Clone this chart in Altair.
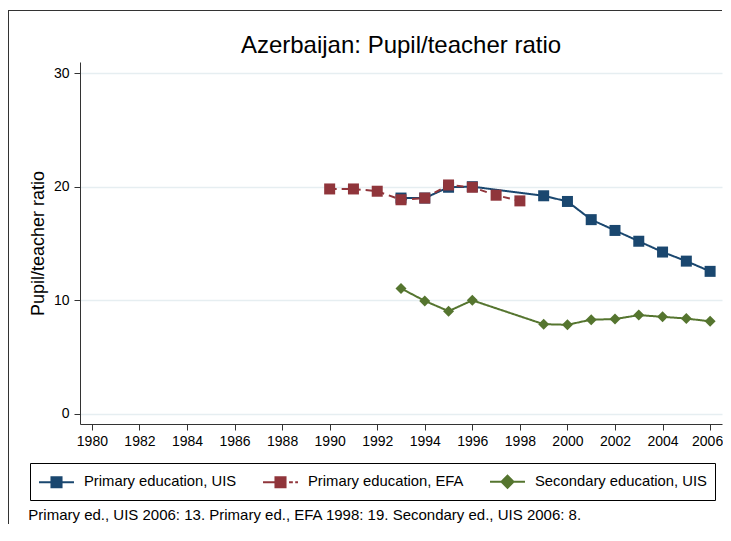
import altair as alt
import pandas as pd

title_text = "Azerbaijan: Pupil/teacher ratio"
y_title = "Pupil/teacher ratio"
footnote = "Primary ed., UIS 2006: 13. Primary ed., EFA 1998: 19. Secondary ed., UIS 2006: 8."

series_names = ["Primary education, UIS", "Primary education, EFA", "Secondary education, UIS"]
series_colors = ["#1a476f", "#90353b", "#55752f"]

years_uis = [1993, 1994, 1995, 1996, 1999, 2000, 2001, 2002, 2003, 2004, 2005, 2006]
primary_uis = [19.0, 19.0, 19.95, 20.0, 19.2, 18.7, 17.1, 16.15, 15.2, 14.25, 13.45, 12.55]
years_efa = [1990, 1991, 1992, 1993, 1994, 1995, 1996, 1997, 1998]
primary_efa = [19.8, 19.8, 19.6, 18.85, 19.0, 20.15, 19.95, 19.25, 18.75]
secondary_uis = [11.05, 9.95, 9.05, 10.0, 7.9, 7.85, 8.3, 8.35, 8.7, 8.55, 8.4, 8.15]

x_ticks = list(range(1980, 2007, 2))
y_ticks = [0, 10, 20, 30]

FONT = "Liberation Sans"

rows = []
for yr, v in zip(years_uis, primary_uis):
    rows.append({"year": yr, "value": v, "series": series_names[0]})
for yr, v in zip(years_efa, primary_efa):
    rows.append({"year": yr, "value": v, "series": series_names[1]})
for yr, v in zip(years_uis, secondary_uis):
    rows.append({"year": yr, "value": v, "series": series_names[2]})
df = pd.DataFrame(rows)

legend_df = pd.DataFrame({"series": series_names, "year": [None] * 3, "value": [None] * 3})

color_scale = alt.Scale(domain=series_names, range=series_colors)

x_enc = alt.X(
    "year:Q",
    scale=alt.Scale(domain=[1979.5, 2006.5], nice=False, zero=False),
    axis=alt.Axis(values=x_ticks, format="d", title=None, grid=False, tickSize=6,
                  labelPadding=4, labelFontSize=14, labelFont=FONT, labelColor="black",
                  domainColor="#333", tickColor="#333", labelOverlap=False, labelFlush=False,
                  labelOffset={"condition": {"test": "datum.value === 2006", "value": -3}, "value": 0}),
)
y_enc = alt.Y(
    "value:Q",
    scale=alt.Scale(domain=[-0.88, 30.97], nice=False, zero=False),
    axis=alt.Axis(values=y_ticks, title=y_title, grid=True, gridColor="#e6eef1", gridWidth=1.5,
                  tickSize=6, labelPadding=5, labelFontSize=14, labelFont=FONT, labelColor="black",
                  domainColor="#333", tickColor="#333", titleFont=FONT, titleFontSize=18,
                  titleFontWeight="normal", titleColor="black", titleAngle=270,
                  titleBaseline="alphabetic", titleX=-37, titleY=181, labelFlush=False),
)

lines = alt.Chart(df).mark_line(strokeWidth=2).encode(
    x=x_enc, y=y_enc,
    color=alt.Color("series:N", scale=color_scale, legend=None),
    strokeDash=alt.StrokeDash("series:N", scale=alt.Scale(domain=series_names, range=[[1, 0], [7, 5], [1, 0]]), legend=None),
)

points = alt.Chart(df).mark_point(filled=True, opacity=1).encode(
    x=x_enc, y=y_enc,
    color=alt.Color("series:N", scale=color_scale, legend=None),
    shape=alt.Shape("series:N", scale=alt.Scale(domain=series_names, range=["square", "square", "diamond"]), legend=None),
    size=alt.Size("series:N", scale=alt.Scale(domain=series_names, range=[121, 121, 169]), legend=None),
)

legend_paths = [
    "M-1.84,0H1.84M-0.53,-0.53H0.53V0.53H-0.53Z",
    "M-1.84,0H0.53M0.9,0H1.3M1.55,0H1.84M-0.53,-0.53H0.53V0.53H-0.53Z",
    "M-1.84,0H1.84M-0.63,0L0,-0.63L0.63,0L0,0.63Z",
]

leg = alt.Legend(
    title=None, orient="none", legendX=-50, legendY=401, direction="horizontal",
    symbolSize=361, symbolStrokeWidth=2, symbolOffset=8, labelFontSize=14.8, labelFont=FONT,
    labelColor="black", labelLimit=400, labelOffset=17, columnPadding=22, padding=8,
    strokeColor="black",
)

legend_layer = alt.Chart(legend_df).mark_point(filled=True, opacity=1).encode(
    x=alt.X("year:Q"), y=alt.Y("value:Q"),
    fill=alt.Fill("series:N", scale=color_scale, legend=leg),
    stroke=alt.Stroke("series:N", scale=color_scale, legend=leg),
    shape=alt.Shape("series:N", scale=alt.Scale(domain=series_names, range=legend_paths), legend=leg),
)

note = alt.Chart(pd.DataFrame({"t": [footnote]})).mark_text(
    align="left", baseline="alphabetic", fontSize=15, font=FONT, color="black"
).encode(x=alt.value(-51.7), y=alt.value(458), text="t:N")

title_mark = alt.Chart(pd.DataFrame({"t": [title_text]})).mark_text(
    align="center", baseline="alphabetic", fontSize=24, font=FONT, color="black"
).encode(x=alt.value(321), y=alt.value(-9.5), text="t:N")

frame_v = alt.Chart(pd.DataFrame({"a": [0]})).mark_rule(color="#333", strokeWidth=1).encode(
    x=alt.value(-71.5), y=alt.value(-52), y2=alt.value(462))
frame_h = alt.Chart(pd.DataFrame({"a": [0]})).mark_rule(color="#333", strokeWidth=1).encode(
    x=alt.value(-71.5), x2=alt.value(642), y=alt.value(-51.5))

chart = alt.layer(lines, points, legend_layer, note, title_mark, frame_v, frame_h).resolve_scale(
    shape="independent", fill="independent", stroke="independent"
).properties(
    width=642, height=362,
    autosize=alt.AutoSizeParams(type="none"),
    padding={"left": 72, "top": 54, "right": 1, "bottom": 100},
).configure_view(stroke=None)

chart.save("out.html", embed_options={"renderer": "svg", "actions": False})
